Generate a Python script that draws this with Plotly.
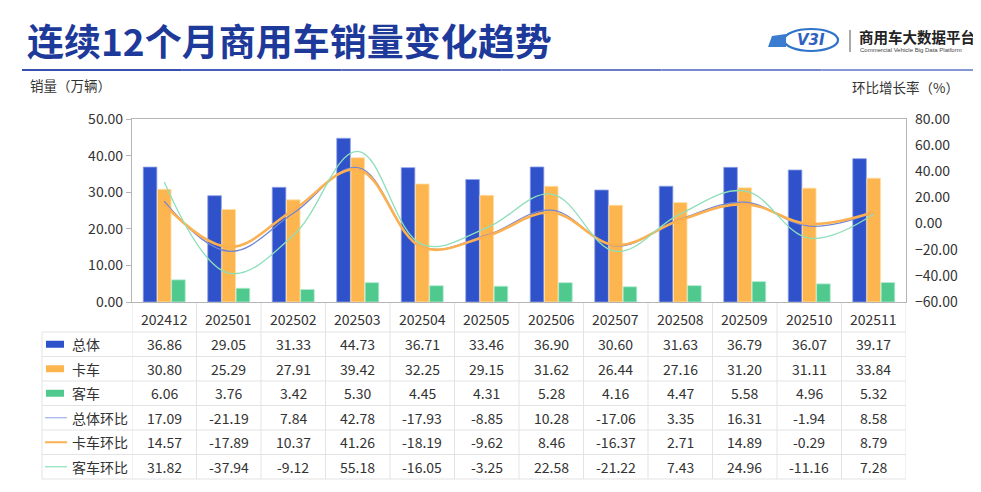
import plotly.graph_objects as go

months = ["202412", "202501", "202502", "202503", "202504", "202505",
          "202506", "202507", "202508", "202509", "202510", "202511"]
total = [36.86, 29.05, 31.33, 44.73, 36.71, 33.46, 36.90, 30.60, 31.63, 36.79, 36.07, 39.17]
truck = [30.80, 25.29, 27.91, 39.42, 32.25, 29.15, 31.62, 26.44, 27.16, 31.20, 31.11, 33.84]
bus = [6.06, 3.76, 3.42, 5.30, 4.45, 4.31, 5.28, 4.16, 4.47, 5.58, 4.96, 5.32]
total_mom = [17.09, -21.19, 7.84, 42.78, -17.93, -8.85, 10.28, -17.06, 3.35, 16.31, -1.94, 8.58]
truck_mom = [14.57, -17.89, 10.37, 41.26, -18.19, -9.62, 8.46, -16.37, 2.71, 14.89, -0.29, 8.79]
bus_mom = [31.82, -37.94, -9.12, 55.18, -16.05, -3.25, 22.58, -21.22, 7.43, 24.96, -11.16, 7.28]

row_names = ["总体", "卡车", "客车", "总体环比", "卡车环比", "客车环比"]
rows = [total, truck, bus, total_mom, truck_mom, bus_mom]

C_BLUE = "#2f51c9"
C_ORANGE = "#fdb64f"
C_GREEN = "#50c98e"
C_LBLUE = "#7186d4"
C_LORANGE = "#fdb050"
C_LGREEN = "#8edfb9"
FONT = "Noto Sans CJK SC"
TXT = "#333333"

OFF = 8  # page body margin
W, H = 981 - OFF, 492 - OFF
# plot area in screen pixels
SL, SR, ST, SB = 132, 906, 119, 302
L, R, T, B = SL - OFF, SR - OFF, ST - OFF, SB - OFF
PW, PH = R - L, B - T


def px(x):
    return (x - OFF - L) / PW


def py(y):
    return (B - (y - OFF)) / PH


fig = go.Figure()
fig.add_bar(x=months, y=total, name="总体", marker=dict(color=C_BLUE, line=dict(color="#8fa2e8", width=0.8)))
fig.add_bar(x=months, y=truck, name="卡车", marker=dict(color=C_ORANGE, line=dict(color="#ffe0a8", width=0.8)))
fig.add_bar(x=months, y=bus, name="客车", marker=dict(color=C_GREEN, line=dict(color="#b5ecd1", width=0.8)))
fig.add_scatter(x=months, y=total_mom, name="总体环比", yaxis="y2", mode="lines",
                line=dict(color=C_LBLUE, width=1.3, shape="spline", smoothing=1.1))
fig.add_scatter(x=months, y=truck_mom, name="卡车环比", yaxis="y2", mode="lines",
                line=dict(color=C_LORANGE, width=2.6, shape="spline", smoothing=1.1))
fig.add_scatter(x=months, y=bus_mom, name="客车环比", yaxis="y2", mode="lines",
                line=dict(color=C_LGREEN, width=1.3, shape="spline", smoothing=1.1))

shapes = []
annotations = []


def note(text, x, y, size=14, color=TXT, xanchor="center", family=FONT, xref="paper"):
    annotations.append(dict(text=text, x=x, y=y, xref=xref, yref="paper", xanchor=xanchor, yanchor="middle",
                            showarrow=False, font=dict(family=family, size=size, color=color)))


# title and header decorations
note("<b>连续12个月商用车销量变化趋势</b>", px(25), py(40), size=37, color="#1d3a9b", xanchor="left")
grad = ["#3a4fb0", "#4a5db8", "#5a6cc0", "#6a7bc8", "#7a8ad0", "#8797d6"]
seg = (981 - 22) / len(grad)
for k, c in enumerate(grad):
    shapes.append(dict(type="line", xref="paper", yref="paper", x0=px(22 + k * seg), x1=px(22 + (k + 1) * seg),
                       y0=py(70), y1=py(70), line=dict(color=c, width=2.2)))
note("销量（万辆）", px(28), py(85), size=13.5, xanchor="left")
note("环比增长率（%）", px(961), py(87), size=13.5, xanchor="right")

# logo
shapes.append(dict(type="circle", xref="paper", yref="paper", x0=px(784), x1=px(838), y0=py(51), y1=py(29),
                   line=dict(color="#2f73c9", width=2.2)))
shapes.append(dict(type="path", xref="paper", yref="paper",
                   path=f"M {px(768)},{py(47)} L {px(772)},{py(36)} L {px(786)},{py(34)} L {px(786)},{py(47)} Z",
                   fillcolor="#3a7dd0", line=dict(width=0)))
note("<b><i>V3I</i></b>", px(811), py(40), size=15, color="#2f62c0", family="DejaVu Sans")
shapes.append(dict(type="line", xref="paper", yref="paper", x0=px(850), x1=px(850), y0=py(30), y1=py(52),
                   line=dict(color="#555555", width=1)))
note("<b>商用车大数据平台</b>", px(857), py(37), size=14.5, color="#222222", xanchor="left")
note("Commercial Vehicle Big Data Platform", px(858), py(50), size=6, color="#444444", xanchor="left",
     family="Liberation Sans Narrow, Liberation Sans")

# data table below the chart
GRID = "#e3e3e3"
header_bottom = 332
row_h = 24.5
row_tops = [header_bottom + row_h * k for k in range(len(rows) + 1)]
table_bottom = row_tops[-1]
for i in range(len(months) + 1):
    shapes.append(dict(type="line", xref="x", yref="paper", x0=i - 0.5, x1=i - 0.5, y0=py(SB), y1=py(table_bottom),
                       line=dict(color=GRID, width=1), layer="below"))
shapes.append(dict(type="line", xref="paper", yref="paper", x0=px(42), x1=px(42), y0=py(header_bottom),
                   y1=py(table_bottom), line=dict(color=GRID, width=1)))
for yy in row_tops:
    shapes.append(dict(type="line", xref="paper", yref="paper", x0=px(42), x1=1, y0=py(yy), y1=py(yy),
                       line=dict(color=GRID, width=1)))

for i, m in enumerate(months):
    note(m, i, py(319), xref="x")

sym_colors = [C_BLUE, C_ORANGE, C_GREEN, "#9fb0ea", C_LORANGE, C_LGREEN]
for r, (name, vals) in enumerate(zip(row_names, rows)):
    yc = (row_tops[r] + row_tops[r + 1]) / 2
    if r < 3:
        shapes.append(dict(type="rect", xref="paper", yref="paper", x0=px(46), x1=px(64), y0=py(yc - 3.5),
                           y1=py(yc + 3.5), fillcolor=sym_colors[r], line=dict(width=0)))
    else:
        shapes.append(dict(type="line", xref="paper", yref="paper", x0=px(45), x1=px(67), y0=py(yc), y1=py(yc),
                           line=dict(color=sym_colors[r], width=2 if r == 4 else 1.2)))
    note(name, px(70), py(yc), xanchor="left")
    for i, v in enumerate(vals):
        note(f"{v:.2f}", i, py(yc), xref="x")

fig.update_layout(
    width=W, height=H,
    margin=dict(l=L, r=W - R, t=T, b=H - B, pad=0),
    paper_bgcolor="white", plot_bgcolor="white",
    showlegend=False,
    barmode="group", bargap=0.34, bargroupgap=0.04,
    font=dict(family=FONT, size=14, color=TXT),
    xaxis=dict(type="category", categoryorder="array", categoryarray=months, range=[-0.5, len(months) - 0.5],
               showticklabels=False, ticks="", showgrid=False, showline=True,
               linecolor="#b5b5b5", linewidth=1.2, mirror=True, zeroline=False),
    yaxis=dict(range=[0, 50], dtick=10, tickformat=".2f", showgrid=False, zeroline=False, showline=True,
               linecolor="#b5b5b5", linewidth=1.2, ticks="outside", ticklen=5, tickcolor="#b5b5b5",
               tickfont=dict(family=FONT, size=14, color=TXT), mirror=True),
    yaxis2=dict(range=[-60, 80], dtick=20, tickformat=".2f", overlaying="y", side="right", showgrid=False,
                zeroline=False, showline=False, ticks="", ticklabelstandoff=8,
                tickfont=dict(family=FONT, size=14, color=TXT)),
    shapes=shapes,
    annotations=annotations,
)

fig.write_html("out.html")
